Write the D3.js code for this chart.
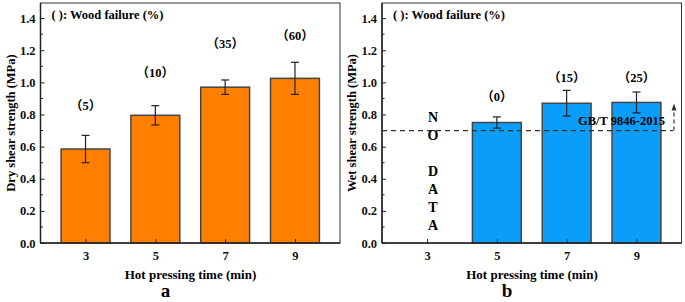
<!DOCTYPE html>
<html>
<head>
<meta charset="utf-8">
<script src="https://cdn.jsdelivr.net/npm/d3@7"></script>
<style>
  body { margin: 0; background: #fff; }
  svg { display: block; font-family: "Liberation Serif", "Noto Sans CJK SC", serif; font-weight: bold; }
</style>
</head>
<body>
<div id="chart"></div>
<script>
// dados
const times = [3, 5, 7, 9];
const dryMean = [0.585, 0.795, 0.97, 1.025];
const dryErr = [0.085, 0.06, 0.045, 0.1];
const dryFailure = ['5', '10', '35', '60'];
const dryLabelY = [0.85, 1.06, 1.24, 1.29];

const wetTimes = [5, 7, 9];
const wetMean = [0.75, 0.87, 0.875];
const wetErr = [0.035, 0.08, 0.065];
const wetFailure = ['0', '15', '25'];
const wetLabelY = [0.91, 1.03, 1.03];

const yTicks = [0, 0.2, 0.4, 0.6, 0.8, 1.0, 1.2, 1.4];
const standardLine = 0.7;
const noDataLetters = ['N', 'O', '', 'D', 'A', 'T', 'A'];

const W = 685, H = 302;
const svg = d3.select('#chart').append('svg')
  .attr('width', W).attr('height', H);

const plotTop = 3, plotBottom = 243;
const y = d3.scaleLinear().domain([0, 1.494]).range([plotBottom, plotTop]);

function panel(opts) {
  const x = d3.scaleLinear().domain([1.71, 10.29]).range([opts.left, opts.left + 299.5]);
  const bw = x(3.7) - x(2.3);
  const g = svg.append('g');

  const data = opts.times.map((t, i) => ({ t, v: opts.mean[i], e: opts.err[i], lab: opts.failure[i], ly: opts.labelY[i] }));

  // moldura
  g.append('rect')
    .attr('x', opts.left).attr('y', plotTop)
    .attr('width', 299.5).attr('height', plotBottom - plotTop)
    .attr('fill', 'none').attr('stroke', '#333').attr('stroke-width', 1);

  // barras
  g.selectAll('rect.bar')
    .data(data)
    .enter().append('rect')
    .attr('class', 'bar')
    .attr('x', d => x(d.t) - bw / 2)
    .attr('y', d => y(d.v))
    .attr('width', bw)
    .attr('height', d => y(0) - y(d.v))
    .attr('fill', opts.color)
    .attr('stroke', '#444')
    .attr('stroke-width', 1.5);

  // barras de erro
  data.forEach(d => {
    const cx = x(d.t);
    g.append('line').attr('x1', cx).attr('x2', cx)
      .attr('y1', y(d.v - d.e)).attr('y2', y(d.v + d.e))
      .attr('stroke', '#222').attr('stroke-width', 1.2);
    [d.v - d.e, d.v + d.e].forEach(v => {
      g.append('line').attr('x1', cx - 4).attr('x2', cx + 4)
        .attr('y1', y(v)).attr('y2', y(v))
        .attr('stroke', '#222').attr('stroke-width', 1.2);
    });
    g.append('text')
      .attr('x', cx).attr('y', y(d.ly) + 4)
      .attr('text-anchor', 'middle')
      .style('font-size', '12.5px')
      .text('（' + d.lab + '）');
  });

  // eixo Y
  const yAxis = g.append('g')
    .attr('transform', `translate(${opts.left},0)`)
    .call(d3.axisLeft(y).tickValues(yTicks).tickFormat(d3.format('.1f')).tickSizeInner(-4).tickSizeOuter(0).tickPadding(5));
  yAxis.select('.domain').remove();
  yAxis.selectAll('line').attr('stroke', '#222').attr('stroke-width', 1);
  yAxis.selectAll('text').style('font-size', '12.5px').style('font-family', '"Liberation Serif", serif').attr('fill', '#111');

  const minor = d3.range(0.1, 1.5, 0.2);
  g.selectAll('line.minor').data(minor).enter().append('line')
    .attr('x1', opts.left).attr('x2', opts.left + 2.5)
    .attr('y1', d => y(d)).attr('y2', d => y(d))
    .attr('stroke', '#222').attr('stroke-width', 1);

  // eixo X
  const xAxis = g.append('g')
    .attr('transform', `translate(0,${plotBottom})`)
    .call(d3.axisBottom(x).tickValues(times).tickFormat(d3.format('d')).tickSizeInner(-4).tickSizeOuter(0).tickPadding(8));
  xAxis.select('.domain').remove();
  xAxis.selectAll('line').attr('stroke', '#222').attr('stroke-width', 1);
  xAxis.selectAll('text').style('font-size', '12.5px').style('font-family', '"Liberation Serif", serif').attr('fill', '#111');

  // linhas dos eixos
  g.append('line').attr('x1', opts.left).attr('x2', opts.left)
    .attr('y1', plotTop).attr('y2', plotBottom).attr('stroke', '#222').attr('stroke-width', 1.5);
  g.append('line').attr('x1', opts.left).attr('x2', opts.left + 299.5)
    .attr('y1', plotBottom).attr('y2', plotBottom).attr('stroke', '#222').attr('stroke-width', 1.5);

  // textos
  g.append('text')
    .attr('x', opts.left + 11).attr('y', 19)
    .style('font-size', '12.5px')
    .text('( ): Wood failure (%)');

  g.append('text')
    .attr('transform', `translate(${opts.left - 26},${(plotTop + plotBottom) / 2}) rotate(-90)`)
    .attr('text-anchor', 'middle')
    .style('font-size', '12.5px')
    .text(opts.yTitle);

  g.append('text')
    .attr('x', opts.left + 150).attr('y', 279)
    .attr('text-anchor', 'middle')
    .style('font-size', '13px')
    .text('Hot pressing time (min)');

  g.append('text')
    .attr('x', opts.left + 125).attr('y', 297)
    .attr('text-anchor', 'middle')
    .style('font-size', '19px')
    .text(opts.letter);

  return { g, x };
}

panel({
  left: 40.5, times: times, mean: dryMean, err: dryErr, failure: dryFailure, labelY: dryLabelY,
  color: '#FF8000', yTitle: 'Dry shear strength (MPa)', letter: 'a'
});

const right = panel({
  left: 382, times: wetTimes, mean: wetMean, err: wetErr, failure: wetFailure, labelY: wetLabelY,
  color: '#0A9EFA', yTitle: 'Wet shear strength (MPa)', letter: 'b'
});

// linha da norma GB/T 9846-2015
const rg = right.g, rx = right.x;
rg.append('line')
  .attr('x1', 382).attr('x2', 673)
  .attr('y1', y(standardLine)).attr('y2', y(standardLine))
  .attr('stroke', '#333').attr('stroke-width', 1.2)
  .attr('stroke-dasharray', '5,4');
rg.append('line')
  .attr('x1', 674).attr('x2', 674)
  .attr('y1', y(standardLine)).attr('y2', y(standardLine) - 22)
  .attr('stroke', '#333').attr('stroke-width', 1.2)
  .attr('stroke-dasharray', '4,3');
rg.append('path')
  .attr('d', `M${674 - 2.5},${y(standardLine) - 20} L674,${y(standardLine) - 27} L${674 + 2.5},${y(standardLine) - 20} Z`)
  .attr('fill', '#333');
rg.append('text')
  .attr('x', 665).attr('y', y(standardLine) - 6)
  .attr('text-anchor', 'end')
  .style('font-size', '12.5px')
  .text('GB/T 9846-2015');

// NO DATA
rg.selectAll('text.nodata').data(noDataLetters).enter().append('text')
  .attr('class', 'nodata')
  .attr('x', rx(3) + 6)
  .attr('y', (d, i) => 122 + i * 18)
  .attr('text-anchor', 'middle')
  .style('font-size', '14px')
  .text(d => d);
</script>
</body>
</html>
